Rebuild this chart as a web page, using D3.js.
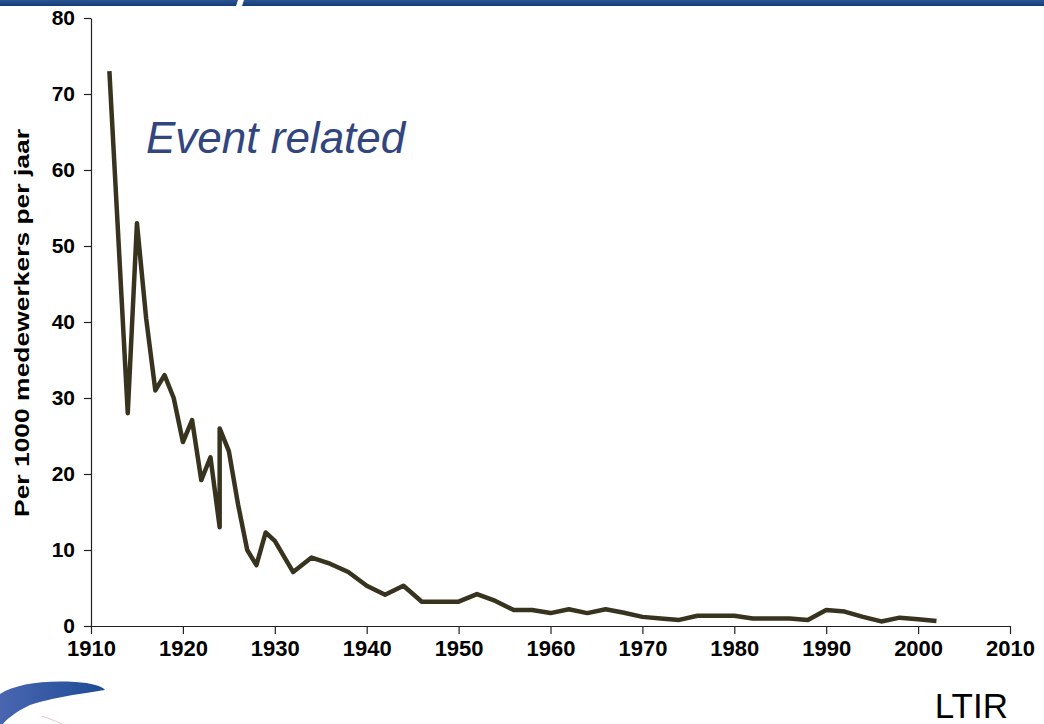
<!DOCTYPE html>
<html>
<head>
<meta charset="utf-8">
<script src="https://cdn.jsdelivr.net/npm/d3@7"></script>
<style>
  body { margin: 0; background: #fff; }
  svg { display: block; }
  text { font-family: "Liberation Sans", Arial, sans-serif; }
</style>
</head>
<body>
<svg id="chart"></svg>
<script>
        // Data (1924 shows two values)
        const years = [1912, 1914, 1915, 1916, 1917, 1918, 1919, 1920, 1921, 1922,
            1923, 1924, 1924, 1925, 1926, 1927, 1928, 1929, 1930, 1932,
            1934, 1936, 1938, 1940, 1942, 1944, 1946, 1948, 1950, 1952,
            1954, 1956, 1958, 1960, 1962, 1964, 1966, 1968, 1970, 1972,
            1974, 1976, 1978, 1980, 1982, 1984, 1986, 1988, 1990, 1992,
            1994, 1996, 1998, 2000, 2002];
        const rates = [73, 28, 53, 40.5, 31, 33, 30, 24.2, 27.1, 19.2,
            22.2, 13, 26, 23, 16, 10, 8, 12.3, 11.2, 7.1,
            9, 8.2, 7.1, 5.3, 4.1, 5.3, 3.2, 3.2, 3.2, 4.2,
            3.3, 2.1, 2.1, 1.7, 2.2, 1.7, 2.2, 1.75, 1.2, 1,
            0.8, 1.35, 1.35, 1.35, 1, 1, 1, 0.8, 2.1, 1.9,
            1.2, 0.6, 1.1, 0.9, 0.65];
        const xTicks = [1910, 1920, 1930, 1940, 1950, 1960, 1970, 1980, 1990, 2000, 2010];
        const yTicks = [0, 10, 20, 30, 40, 50, 60, 70, 80];

        const width = 1044;
        const height = 724;
        const margin = { top: 18, right: 34, bottom: 98, left: 91 };

        const svg = d3.select('#chart')
            .attr('width', width)
            .attr('height', height);

        const defs = svg.append('defs');
        const band = defs.append('linearGradient').attr('id', 'band')
            .attr('x1', 0).attr('y1', 0).attr('x2', 0).attr('y2', 1);
        band.append('stop').attr('offset', 0).attr('stop-color', '#2a5590');
        band.append('stop').attr('offset', 1).attr('stop-color', '#143c7a');
        const swoosh = defs.append('linearGradient').attr('id', 'swoosh')
            .attr('x1', 0).attr('y1', 0).attr('x2', 1).attr('y2', 0);
        swoosh.append('stop').attr('offset', 0).attr('stop-color', '#4a66b0');
        swoosh.append('stop').attr('offset', 1).attr('stop-color', '#1d4b96');

        // Header band with slanted gap
        svg.append('path')
            .attr('d', 'M0,0H238L236,6H0Z')
            .attr('fill', 'url(#band)');
        svg.append('path')
            .attr('d', 'M244,0H1044V6H242Z')
            .attr('fill', 'url(#band)');

        // Logo swoosh in the bottom left corner
        svg.append('path')
            .attr('d', 'M0,694 C15,684 45,680 75,682 C92,683 102,686 105,690 C85,693 50,698 30,705 C15,712 6,720 3,724 L0,724 Z')
            .attr('fill', 'url(#swoosh)');
        svg.append('path')
            .attr('d', 'M42,716 C50,719 56,721 62,724')
            .attr('fill', 'none')
            .attr('stroke', '#e8c8c8')
            .attr('stroke-width', 1);

        const xScale = d3.scaleLinear()
            .domain([1910, 2010])
            .range([margin.left, width - margin.right]);

        const yScale = d3.scaleLinear()
            .domain([0, 80])
            .range([height - margin.bottom, margin.top]);

        // x axis
        const xAxis = svg.append('g')
            .attr('transform', `translate(0, ${height - margin.bottom})`)
            .call(d3.axisBottom(xScale).tickValues(xTicks).tickFormat(d3.format('d'))
                .tickSizeInner(8).tickSizeOuter(0));
        xAxis.select('.domain').attr('stroke', '#222').attr('stroke-width', 1.2);
        xAxis.selectAll('.tick line').attr('stroke', '#222').attr('stroke-width', 1.2);
        xAxis.selectAll('.tick text')
            .attr('y', 14)
            .attr('dy', '0.71em')
            .attr('fill', '#000')
            .style('font-size', '22px')
            .style('font-weight', 'bold');

        // y axis
        const yAxis = svg.append('g')
            .attr('transform', `translate(${margin.left}, 0)`)
            .call(d3.axisLeft(yScale).tickValues(yTicks)
                .tickSizeInner(7).tickSizeOuter(0));
        yAxis.select('.domain').attr('stroke', '#222').attr('stroke-width', 1.2);
        yAxis.selectAll('.tick line').attr('stroke', '#222').attr('stroke-width', 1.2);
        yAxis.selectAll('.tick text')
            .attr('x', -16)
            .attr('fill', '#000')
            .style('font-size', '21px')
            .style('font-weight', 'bold');

        // y axis title
        svg.append('text')
            .attr('transform', 'translate(29, 323) rotate(-90)')
            .attr('text-anchor', 'middle')
            .attr('textLength', 388)
            .attr('lengthAdjust', 'spacingAndGlyphs')
            .attr('fill', '#000')
            .style('font-size', '21px')
            .style('font-weight', 'bold')
            .text('Per 1000 medewerkers per jaar');

        // The series line
        const line = d3.line()
            .x((d, i) => xScale(years[i]))
            .y(d => yScale(d));

        svg.append('path')
            .datum(rates)
            .attr('fill', 'none')
            .attr('stroke', '#38331f')
            .attr('stroke-width', 4.5)
            .attr('stroke-linejoin', 'round')
            .attr('d', line);

        // Annotations
        svg.append('text')
            .attr('x', 146)
            .attr('y', 153)
            .attr('fill', '#31457f')
            .style('font-size', '44px')
            .style('font-style', 'italic')
            .text('Event related');

        svg.append('text')
            .attr('x', 1008)
            .attr('y', 718)
            .attr('text-anchor', 'end')
            .attr('fill', '#000')
            .style('font-size', '35px')
            .text('LTIR');
</script>
</body>
</html>
